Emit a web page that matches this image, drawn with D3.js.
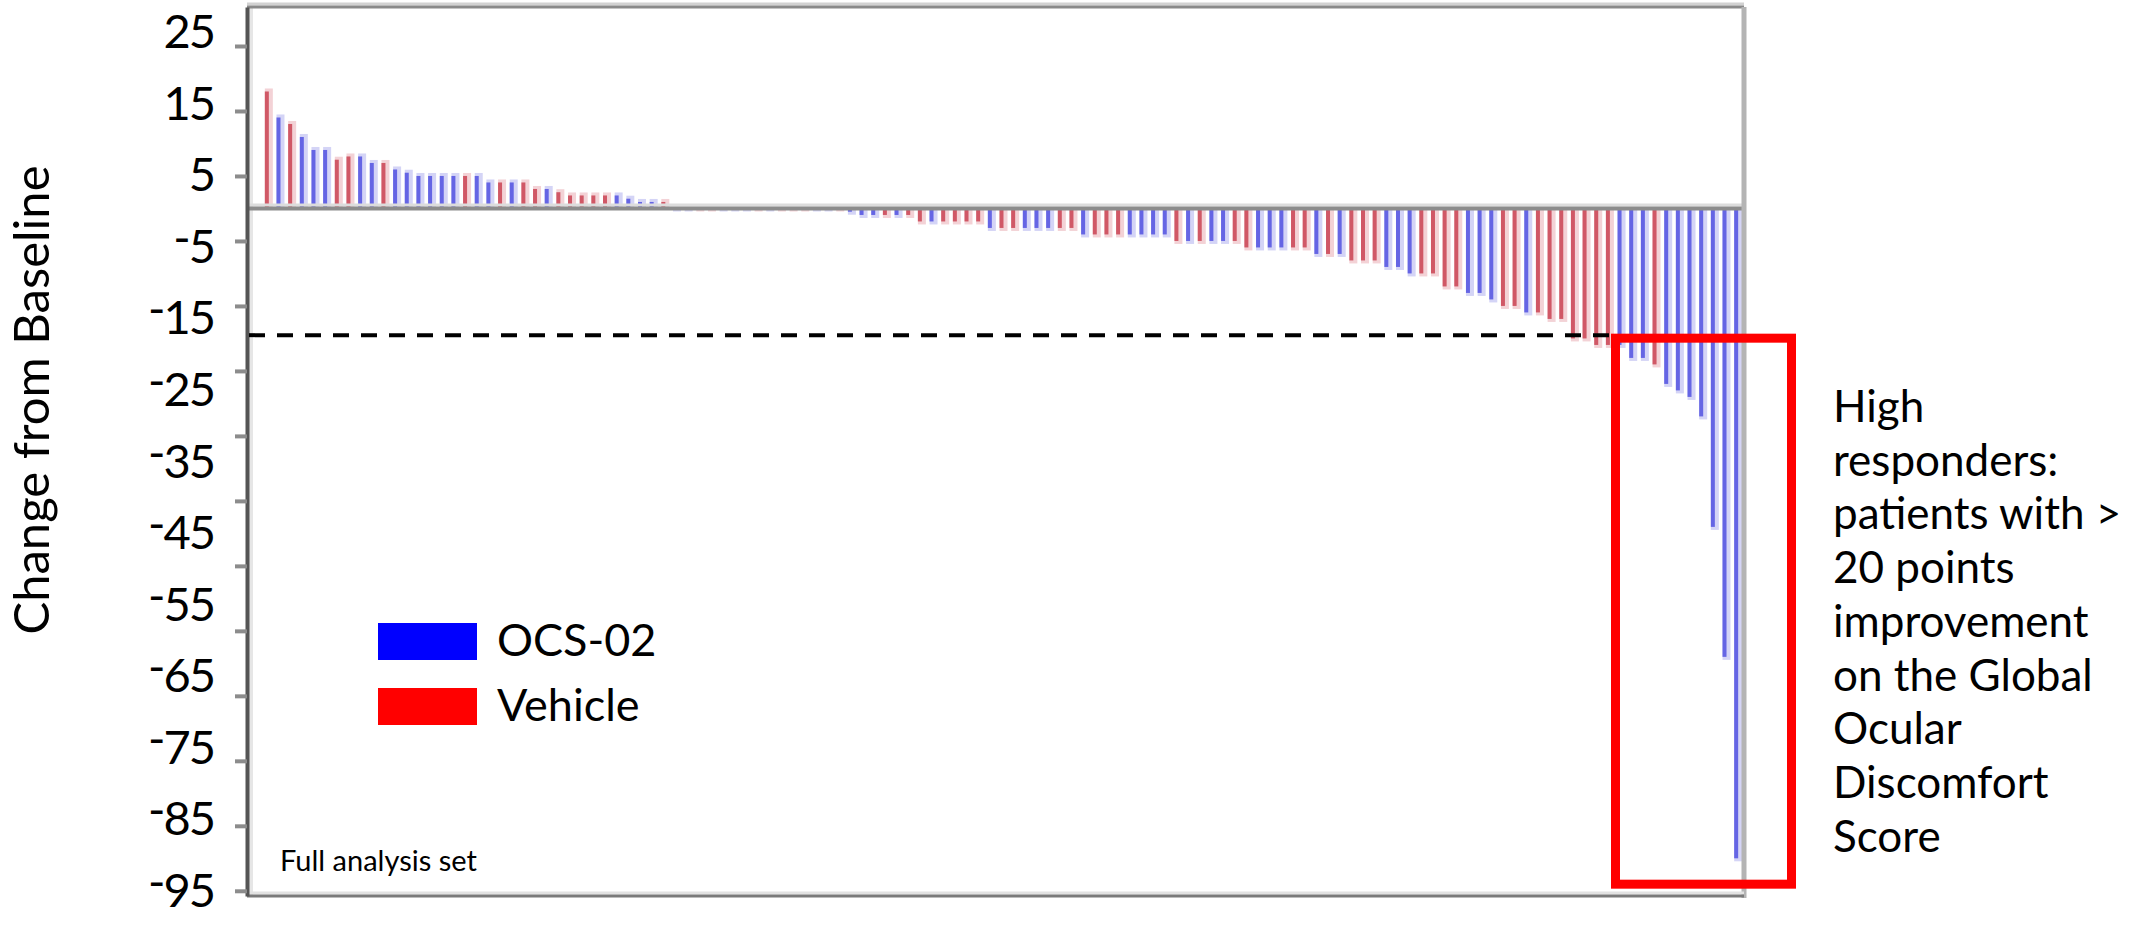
<!DOCTYPE html>
<html>
<head>
<meta charset="utf-8">
<script src="https://cdn.jsdelivr.net/npm/d3@7"></script>
<style>
body { margin: 0; background: #fff; }
text { font-family: Lato, "Open Sans", sans-serif; fill: #000; }
</style>
</head>
<body>
<script>
// change from baseline, one bar per patient (sorted)
var values = [
    18, 14, 13, 11, 9, 9, 7.5, 8, 8, 7, 7, 6, 5.5, 5, 5, 5, 5, 5, 5, 4,
    4, 4, 4, 3, 3, 2.5, 2, 2, 2, 2, 2, 1.5, 1, 1, 1,
    0, 0, 0, 0, 0, 0, 0, 0, 0, 0, 0, 0, 0, 0, 0,
    -0.5, -1, -1, -1, -1, -1, -2, -2, -2, -2, -2, -2, -3, -3, -3, -3, -3, -3, -3, -3,
    -4, -4, -4, -4, -4, -4, -4, -4, -5,
    -5, -5, -5, -5, -5, -6, -6, -6, -6, -6, -6, -7, -7, -7, -8, -8, -8, -9, -9,
    -10, -10, -10, -12, -12, -13, -13, -14, -15, -15, -16, -16, -17, -17,
    -20, -20, -21, -21, -21, -23, -23,
    -24, -27, -28, -29, -32, -49, -69, -100
];
// O = OCS-02, V = Vehicle
var arm = ("VOVOOOVVOOVOOOOOOVOOVOVVOVVVVVOOOOV" +
    "OOVVOOOVOVVVOOV" +
    "OOOVOVVOVVVVOVVOOOVVOVVVOOOOV" +
    "OVOOVVOOOVVOVOVVVOOOVVVVOOOVVOVVVVVVVOOO" +
    "VOOOOOOO").split("");

var tickValues = d3.range(25, -106, -10);
var tickLabels = ["25", "15", "5", "-5", "-15", "-25", "-35", "-45",
    "-55", "-65", "-75", "-85", "-95"];
var threshold = -19.5;
var legendNames = ["OCS-02", "Vehicle"];
var legendColors = ["#0000ff", "#ff0000"];
var noteLines = ["High", "responders:", "patients with >", "20 points",
    "improvement", "on the Global", "Ocular", "Discomfort", "Score"];

var width = 2144, height = 926;
var plot = {left: 247, right: 1744, top: 7, bottom: 896};

var core = {O: "#6565e4", V: "#d05866"},
    halo = {O: "#d4d4f6", V: "#f3d2d6"};

var svg = d3.select("body").append("svg")
    .attr("width", width)
    .attr("height", height);

var x = d3.scaleBand()
    .domain(d3.range(values.length))
    .range([261, 1742]);
var y = d3.scaleLinear()
    .domain([-105.8, 31])
    .range([plot.bottom, plot.top]);

// light frame shadows
svg.append("line")
    .attr("x1", plot.left + 4).attr("x2", plot.left + 4)
    .attr("y1", plot.top).attr("y2", plot.bottom)
    .style("stroke", "#e6e6e6").style("stroke-width", 4);
svg.append("line")
    .attr("x1", plot.left).attr("x2", plot.right)
    .attr("y1", plot.top - 3).attr("y2", plot.top - 3)
    .style("stroke", "#d2d2d2").style("stroke-width", 3);

// bars: light halo + solid core
var bars = svg.append("g").selectAll("g")
    .data(values)
    .enter().append("g");
bars.append("rect")
    .attr("x", (d, i) => x(i) + x.bandwidth() / 2 - 2)
    .attr("y", d => Math.min(y(d), y(0)) - (d > 0 ? 3 : 0))
    .attr("width", 8)
    .attr("height", d => Math.abs(y(d) - y(0)) + 3)
    .style("fill", (d, i) => halo[arm[i]]);
bars.append("rect")
    .attr("x", (d, i) => x(i) + x.bandwidth() / 2 - 2)
    .attr("y", d => Math.min(y(d), y(0)))
    .attr("width", 4)
    .attr("height", d => Math.abs(y(d) - y(0)))
    .style("fill", (d, i) => core[arm[i]]);

// zero line
svg.append("line")
    .attr("x1", plot.left).attr("x2", plot.right)
    .attr("y1", y(0) - 3.5).attr("y2", y(0) - 3.5)
    .style("stroke", "#dcdcdc").style("stroke-width", 3);
svg.append("line")
    .attr("x1", plot.left).attr("x2", plot.right)
    .attr("y1", y(0)).attr("y2", y(0))
    .style("stroke", "#8c8c8c").style("stroke-width", 4);

// frame top, right, bottom
svg.append("line")
    .attr("x1", plot.left).attr("x2", plot.right)
    .attr("y1", plot.top).attr("y2", plot.top)
    .style("stroke", "#8a8a8a").style("stroke-width", 3);
svg.append("line")
    .attr("x1", plot.right).attr("x2", plot.right)
    .attr("y1", plot.top).attr("y2", plot.bottom + 2)
    .style("stroke", "#b4b4b4").style("stroke-width", 5);
svg.append("line")
    .attr("x1", plot.left).attr("x2", plot.right)
    .attr("y1", plot.bottom - 3).attr("y2", plot.bottom - 3)
    .style("stroke", "#e2e2e2").style("stroke-width", 3);
svg.append("line")
    .attr("x1", plot.left).attr("x2", plot.right)
    .attr("y1", plot.bottom).attr("y2", plot.bottom)
    .style("stroke", "#7a7a7a").style("stroke-width", 3);

// y axis (ticks only, labels are set separately)
var yAxis = svg.append("g")
    .attr("transform", "translate(" + plot.left + ",0)")
    .call(d3.axisLeft(y).tickValues(tickValues).tickSize(12)
        .tickSizeOuter(0).tickFormat(""));
yAxis.select(".domain")
    .style("stroke", "#555").style("stroke-width", 4);
yAxis.selectAll(".tick line")
    .style("stroke", "#8c8c8c").style("stroke-width", 4);

var labelY = d3.scalePoint()
    .domain(tickLabels)
    .range([48, 907]);
var labels = svg.append("g").selectAll("text")
    .data(tickLabels)
    .enter().append("text")
        .attr("x", 214)
        .attr("y", d => labelY(d))
        .attr("dy", "0.36em")
        .attr("text-anchor", "end")
        .style("font-size", "47px")
        .style("letter-spacing", "-2px");
labels.filter(d => d[0] == "-").append("tspan")
    .attr("dy", "-9")
    .text("-");
labels.append("tspan")
    .attr("dy", d => d[0] == "-" ? 9 : 0)
    .text(d => d.replace("-", ""));

svg.append("text")
    .attr("transform", "translate(49,400) rotate(-90)")
    .attr("text-anchor", "middle")
    .style("font-size", "49px")
    .text("Change from Baseline");

// -20 points threshold
svg.append("line")
    .attr("x1", plot.left + 2).attr("x2", 1611)
    .attr("y1", y(threshold)).attr("y2", y(threshold))
    .style("stroke", "#000").style("stroke-width", 4)
    .style("stroke-dasharray", "16 12");

// high responder box
svg.append("rect")
    .attr("x", 1615.5).attr("y", y(threshold) + 3)
    .attr("width", 176).attr("height", 546)
    .style("fill", "none")
    .style("stroke", "#ff0000").style("stroke-width", 9);

// legend
var legend = svg.selectAll(".legend")
    .data(legendNames)
    .enter().append("g")
        .attr("class", "legend")
        .attr("transform", (d, i) => "translate(378," + (623 + i * 65) + ")");
legend.append("rect")
    .attr("width", 99).attr("height", 37)
    .style("fill", (d, i) => legendColors[i]);
legend.append("text")
    .attr("x", 119).attr("y", 33)
    .style("font-size", "45px")
    .text(d => d);

svg.append("text")
    .attr("x", 280).attr("y", 871)
    .style("font-size", "29px")
    .text("Full analysis set");

svg.append("g").selectAll("text")
    .data(noteLines)
    .enter().append("text")
        .attr("x", 1833)
        .attr("y", (d, i) => 422 + i * 53.7)
        .style("font-size", "44px")
        .text(d => d);
</script>
</body>
</html>
